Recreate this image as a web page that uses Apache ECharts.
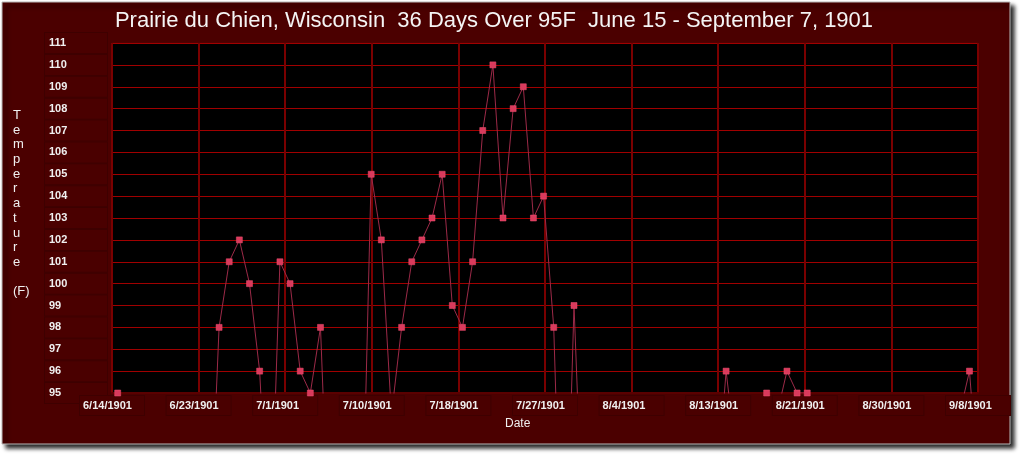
<!DOCTYPE html>
<html>
<head>
<meta charset="utf-8">
<script src="https://cdn.jsdelivr.net/npm/echarts@6/dist/echarts.min.js"></script>
<style>
html,body{margin:0;padding:0;background:#ffffff;}
#chart{width:1024px;height:454px;}
</style>
</head>
<body>
<div id="chart"></div>
<script>
// Daily maximum temperatures (F), one per day starting June 15, 1901 (day 0)
const startDate = '6/15/1901';
const temps = [
  95, 91, 88, 86, 89, 90, 87, 85, 88, 87,      // 6/15 - 6/24
  98, 101, 102, 100, 96, 87,                   // 6/25 - 6/30
  101, 100, 96, 95, 98, 86, 88, 90, 86,        // 7/1 - 7/9
  105, 102, 94, 98, 101, 102, 103, 105, 99, 98, // 7/10 - 7/19
  101, 107, 110, 103, 108, 109, 103, 104, 98, 83, 99, // 7/20 - 7/30
  87, 89, 91, 90, 88, 92, 90, 87, 89, 91, 93, 90, 92, 90, // 7/31 - 8/13
  96, 92, 90, 91, 95, 94, 96, 95, 95,          // 8/14 - 8/22
  91, 89, 92, 90, 88, 91, 93, 90, 89, 92, 91, 90, 93, 92, 94, // 8/23 - 9/6
  96, 90                                       // 9/7 - 9/8
];
const xTickLabels = ['6/14/1901','6/23/1901','7/1/1901','7/10/1901','7/18/1901','7/27/1901','8/4/1901','8/13/1901','8/21/1901','8/30/1901','9/8/1901'];
const yMin = 95, yMax = 111;
const titleText = 'Prairie du Chien, Wisconsin  36 Days Over 95F  June 15 - September 7, 1901';
const yTitle = 'Temperature';
const yUnit = '(F)';
const xTitle = 'Date';

const seriesData = temps.map((t, i) => [i, t]);

const chart = echarts.init(document.getElementById('chart'), null, {renderer: 'canvas'});
const option = {
  backgroundColor: 'transparent',
  animation: false,
  title: {
    text: titleText,
    left: 489,
    top: 5,
    textAlign: 'center',
    textStyle: {color: '#f4f4f4', fontFamily: 'Liberation Sans', fontWeight: 'normal', fontSize: 22}
  },
  graphic: [
    {type: 'rect', z: -100, shape: {x: 2, y: 2, width: 1008, height: 442},
     style: {fill: '#4b0000', stroke: '#b8b8b8', lineWidth: 1, shadowBlur: 4, shadowOffsetX: 4, shadowOffsetY: 4, shadowColor: 'rgba(0,0,0,0.85)'}},
    {type: 'text', left: 13, top: 108, z: 10,
     style: {text: yTitle.split('').join('\n') + '\n\n' + yUnit, fill: '#f0f0f0', font: '13px "Liberation Sans"', lineHeight: 14.7, align: 'center', x: 6}},
    {type: 'text', left: 505, top: 418, z: 10,
     style: {text: xTitle, fill: '#f0f0f0', font: '12px "Liberation Sans"'}}
  ],
  grid: {left: 112, top: 43, right: 46, bottom: 61, show: true, backgroundColor: '#000000', borderColor: '#5a0000', borderWidth: 1, containLabel: false},
  xAxis: [
    {type: 'value', min: -0.56, max: 84.84, show: false},
    {type: 'value', min: 0, max: xTickLabels.length - 1, interval: 1, position: 'bottom',
     axisLine: {show: true, lineStyle: {color: '#5a0000', width: 2}},
     axisTick: {show: false},
     splitLine: {show: true, lineStyle: {color: '#7a0000', width: 2}},
     axisLabel: {
       margin: 3, align: 'center', showMinLabel: true, showMaxLabel: true,
       formatter: v => '{t|' + xTickLabels[Math.round(v)] + '}',
       rich: {t: {width: 58, height: 19, align: 'left', padding: [0, 3, 0, 3], backgroundColor: '#4a0000', borderColor: '#3e0000', borderWidth: 1,
                  color: '#f0f0f0', fontFamily: 'Liberation Sans', fontWeight: 'bold', fontSize: 11}}
     }}
  ],
  yAxis: {
    type: 'value', min: yMin, max: yMax, interval: 1,
    axisLine: {show: false}, axisTick: {show: false},
    splitLine: {show: true, lineStyle: {color: '#a00000', width: 1}},
    axisLabel: {margin: 67, align: 'left', width: 54, height: 20, lineHeight: 20, padding: [0, 4, 0, 4],
      backgroundColor: '#4a0000', borderColor: '#3e0000', borderWidth: 1,
      color: '#f0f0f0', fontFamily: 'Liberation Sans', fontWeight: 'bold', fontSize: 11}
  },
  series: [{
    type: 'line', xAxisIndex: 0, yAxisIndex: 0, data: seriesData, clip: true,
    symbol: 'rect', symbolSize: 6, showAllSymbol: true,
    lineStyle: {color: '#9c2a48', width: 1},
    itemStyle: {color: '#d93a5c', borderColor: '#f05070', borderWidth: 0.5}
  }]
};
chart.setOption(option);
</script>
</body>
</html>
